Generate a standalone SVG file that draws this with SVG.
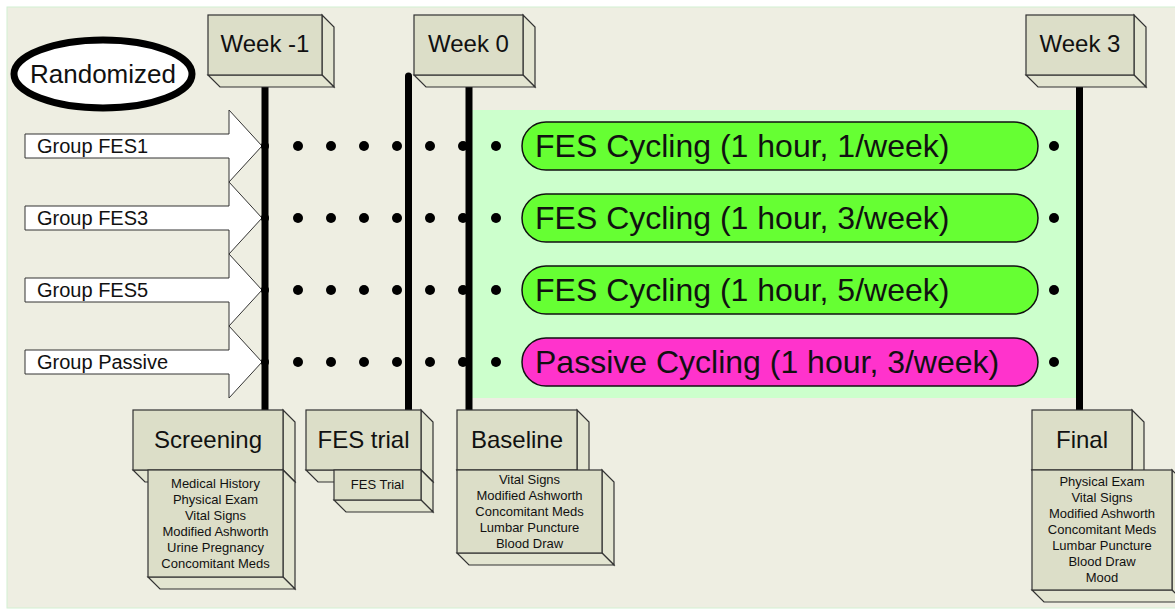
<svg xmlns="http://www.w3.org/2000/svg" width="1175" height="613" viewBox="0 0 1175 613">
<style>
text{font-family:"Liberation Sans",Arial,sans-serif;fill:#111}
.face{fill:#DCDEC8;stroke:#333;stroke-width:1.2}
.side{fill:#E3E5D1;stroke:#333;stroke-width:1.2}
.wk{font-size:24px;text-anchor:middle}
.hd{font-size:24px;text-anchor:middle}
.ls{font-size:13px;text-anchor:middle}
.grp{font-size:20px}
.arrow{fill:#fff;stroke:#333;stroke-width:1}
.bar{stroke:#111;stroke-width:1.5}
.bt{font-size:32px}
.vl{stroke:#000;stroke-width:7;stroke-linecap:butt}
.dot{fill:#000}
</style>
<rect x="7" y="7" width="1170" height="601" fill="#EEEEE2" stroke="#D2F0D2" stroke-width="1"/>
<rect x="470" y="110" width="608" height="288" fill="#CCFFCC"/>

<g id="randomized">
<ellipse cx="103" cy="74" rx="89" ry="34" fill="#fff" stroke="#000" stroke-width="7"/>
<text x="103" y="83" font-size="26" text-anchor="middle">Randomized</text>
</g>

<g id="group-fes1">
<polygon class="arrow" points="25,134 229,134 229,110 262,146 229,182 229,158 25,158"/>
<text class="grp" x="37" y="153">Group FES1</text>
</g>
<g id="group-fes3">
<polygon class="arrow" points="25,206 229,206 229,182 262,218 229,254 229,230 25,230"/>
<text class="grp" x="37" y="225">Group FES3</text>
</g>
<g id="group-fes5">
<polygon class="arrow" points="25,278 229,278 229,254 262,290 229,326 229,302 25,302"/>
<text class="grp" x="37" y="297">Group FES5</text>
</g>
<g id="group-passive">
<polygon class="arrow" points="25,350 229,350 229,326 262,362 229,398 229,374 25,374"/>
<text class="grp" x="37" y="369">Group Passive</text>
</g>

<g id="connectors">
<line class="vl" x1="265" y1="87" x2="265" y2="410"/>
<line x1="408.5" y1="76" x2="408.5" y2="410" stroke="#000" stroke-width="7" stroke-linecap="round"/>
<line class="vl" x1="469" y1="87" x2="469" y2="410"/>
<line class="vl" x1="1079.5" y1="87" x2="1079.5" y2="410"/>
<g id="dots">
<g transform="translate(0,146)"><circle class="dot" cx="265" cy="0" r="4"/><circle class="dot" cx="298" cy="0" r="5"/><circle class="dot" cx="331" cy="0" r="5"/><circle class="dot" cx="364" cy="0" r="5"/><circle class="dot" cx="397" cy="0" r="5"/><circle class="dot" cx="430" cy="0" r="5"/><circle class="dot" cx="463" cy="0" r="5"/><circle class="dot" cx="496" cy="0" r="5"/><circle class="dot" cx="1054" cy="0" r="5"/></g>
<g transform="translate(0,218)"><circle class="dot" cx="265" cy="0" r="4"/><circle class="dot" cx="298" cy="0" r="5"/><circle class="dot" cx="331" cy="0" r="5"/><circle class="dot" cx="364" cy="0" r="5"/><circle class="dot" cx="397" cy="0" r="5"/><circle class="dot" cx="430" cy="0" r="5"/><circle class="dot" cx="463" cy="0" r="5"/><circle class="dot" cx="496" cy="0" r="5"/><circle class="dot" cx="1054" cy="0" r="5"/></g>
<g transform="translate(0,290)"><circle class="dot" cx="265" cy="0" r="4"/><circle class="dot" cx="298" cy="0" r="5"/><circle class="dot" cx="331" cy="0" r="5"/><circle class="dot" cx="364" cy="0" r="5"/><circle class="dot" cx="397" cy="0" r="5"/><circle class="dot" cx="430" cy="0" r="5"/><circle class="dot" cx="463" cy="0" r="5"/><circle class="dot" cx="496" cy="0" r="5"/><circle class="dot" cx="1054" cy="0" r="5"/></g>
<g transform="translate(0,362)"><circle class="dot" cx="265" cy="0" r="4"/><circle class="dot" cx="298" cy="0" r="5"/><circle class="dot" cx="331" cy="0" r="5"/><circle class="dot" cx="364" cy="0" r="5"/><circle class="dot" cx="397" cy="0" r="5"/><circle class="dot" cx="430" cy="0" r="5"/><circle class="dot" cx="463" cy="0" r="5"/><circle class="dot" cx="496" cy="0" r="5"/><circle class="dot" cx="1054" cy="0" r="5"/></g>
</g>
</g>

<g id="bar-fes1">
<rect class="bar" x="522" y="122" width="516" height="48" rx="24" fill="#66FF33"/>
<text class="bt" x="535" y="157">FES Cycling (1 hour, 1/week)</text>
</g>
<g id="bar-fes3">
<rect class="bar" x="522" y="194" width="516" height="48" rx="24" fill="#66FF33"/>
<text class="bt" x="535" y="229">FES Cycling (1 hour, 3/week)</text>
</g>
<g id="bar-fes5">
<rect class="bar" x="522" y="266" width="516" height="48" rx="24" fill="#66FF33"/>
<text class="bt" x="535" y="301">FES Cycling (1 hour, 5/week)</text>
</g>
<g id="bar-passive">
<rect class="bar" x="522" y="338" width="516" height="48" rx="24" fill="#FF33CC"/>
<text class="bt" x="535" y="373">Passive Cycling (1 hour, 3/week)</text>
</g>

<g id="week-minus1">
<polygon class="side" points="322,15 334,27 334,87 322,75"/>
<polygon class="side" points="208,75 322,75 334,87 220,87"/>
<rect class="face" x="208" y="15" width="114" height="60"/>
<text class="wk" x="265" y="52">Week -1</text>
</g>
<g id="week-0">
<polygon class="side" points="523,15 535,27 535,87 523,75"/>
<polygon class="side" points="414,75 523,75 535,87 426,87"/>
<rect class="face" x="414" y="15" width="109" height="60"/>
<text class="wk" x="468.5" y="52">Week 0</text>
</g>
<g id="week-3">
<polygon class="side" points="1134,15 1146,27 1146,87 1134,75"/>
<polygon class="side" points="1026,75 1134,75 1146,87 1038,87"/>
<rect class="face" x="1026" y="15" width="108" height="60"/>
<text class="wk" x="1080" y="52">Week 3</text>
</g>

<g id="screening">
<polygon class="side" points="283,410 295,422 295,482 283,470"/>
<polygon class="side" points="133,470 283,470 295,482 145,482"/>
<rect class="face" x="133" y="410" width="150" height="60"/>
<text class="hd" x="208" y="448">Screening</text>
<polygon class="side" points="283,470 295,482 295,589 283,577"/>
<polygon class="side" points="148,577 283,577 295,589 160,589"/>
<rect class="face" x="148" y="470" width="135" height="107"/>
<text class="ls" x="215.5" y="488">Medical History</text>
<text class="ls" x="215.5" y="504">Physical Exam</text>
<text class="ls" x="215.5" y="520">Vital Signs</text>
<text class="ls" x="215.5" y="536">Modified Ashworth</text>
<text class="ls" x="215.5" y="552">Urine Pregnancy</text>
<text class="ls" x="215.5" y="568">Concomitant Meds</text>
</g>

<g id="fes-trial">
<polygon class="side" points="421,410 433,422 433,482 421,470"/>
<polygon class="side" points="306,470 421,470 433,482 318,482"/>
<rect class="face" x="306" y="410" width="115" height="60"/>
<text class="hd" x="363.5" y="448">FES trial</text>
<polygon class="side" points="421,470 433,482 433,512 421,500"/>
<polygon class="side" points="334,500 421,500 433,512 346,512"/>
<rect class="face" x="334" y="470" width="87" height="30"/>
<text class="ls" x="377.5" y="489">FES Trial</text>
</g>

<g id="baseline">
<polygon class="side" points="577,410 589,422 589,482 577,470"/>
<polygon class="side" points="457,470 577,470 589,482 469,482"/>
<rect class="face" x="457" y="410" width="120" height="60"/>
<text class="hd" x="517" y="448">Baseline</text>
<polygon class="side" points="602,470 614,482 614,565 602,553"/>
<polygon class="side" points="457,553 602,553 614,565 469,565"/>
<rect class="face" x="457" y="470" width="145" height="83"/>
<text class="ls" x="529.5" y="484">Vital Signs</text>
<text class="ls" x="529.5" y="500">Modified Ashworth</text>
<text class="ls" x="529.5" y="516">Concomitant Meds</text>
<text class="ls" x="529.5" y="532">Lumbar Puncture</text>
<text class="ls" x="529.5" y="548">Blood Draw</text>
</g>

<g id="final">
<polygon class="side" points="1132,410 1144,422 1144,482 1132,470"/>
<polygon class="side" points="1032,470 1132,470 1144,482 1044,482"/>
<rect class="face" x="1032" y="410" width="100" height="60"/>
<text class="hd" x="1082" y="448">Final</text>
<polygon class="side" points="1172,470 1184,482 1184,602 1172,590"/>
<polygon class="side" points="1032,590 1172,590 1184,602 1044,602"/>
<rect class="face" x="1032" y="470" width="140" height="120"/>
<text class="ls" x="1102" y="486">Physical Exam</text>
<text class="ls" x="1102" y="502">Vital Signs</text>
<text class="ls" x="1102" y="518">Modified Ashworth</text>
<text class="ls" x="1102" y="534">Concomitant Meds</text>
<text class="ls" x="1102" y="550">Lumbar Puncture</text>
<text class="ls" x="1102" y="566">Blood Draw</text>
<text class="ls" x="1102" y="582">Mood</text>
</g>
</svg>
